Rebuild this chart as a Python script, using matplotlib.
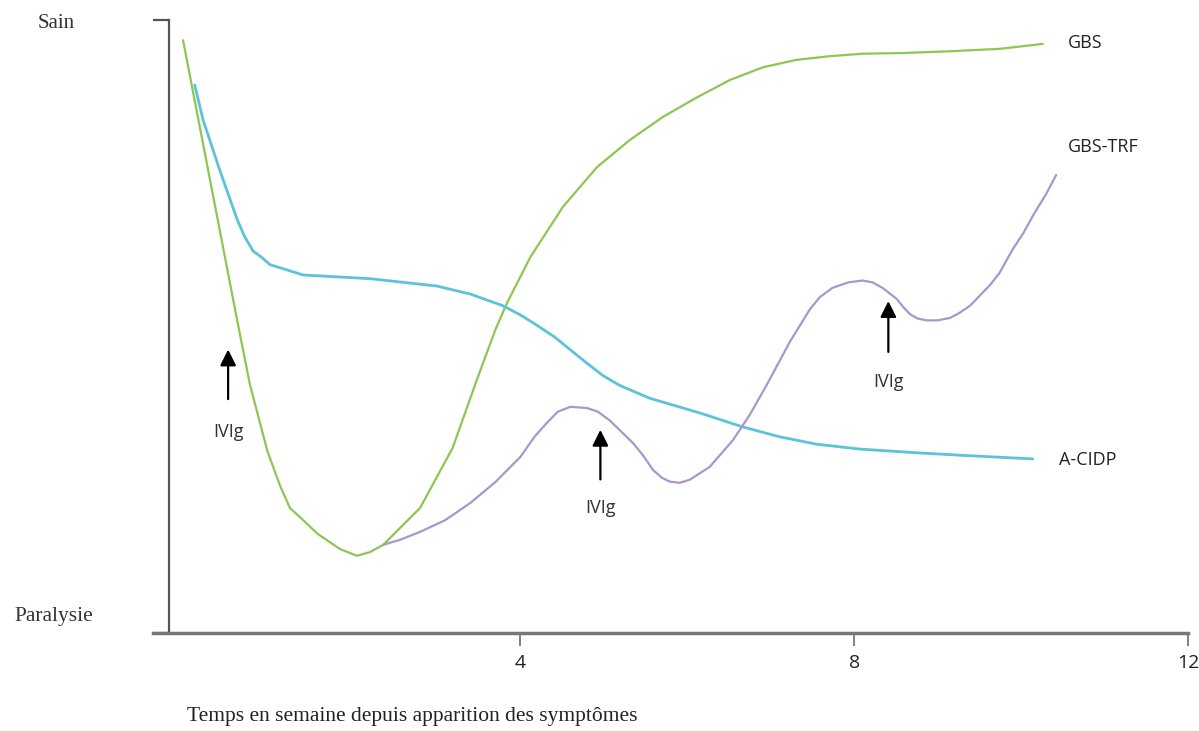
import matplotlib
matplotlib.use("Agg")
import matplotlib.pyplot as plt
import numpy as np

# weeks since symptom onset vs. clinical state (0 = paralysie, 100 = sain)
gbs_x = [-0.04, 0.61, 0.76, 0.97, 1.12, 1.24, 1.40, 1.57, 1.84, 2.04, 2.20, 2.36, 2.80, 3.19,
         3.48, 3.70, 3.84, 4.12, 4.51, 4.92, 5.31, 5.71, 6.12, 6.51, 6.91, 7.31, 7.71, 8.10,
         8.55, 9.15, 9.75, 10.26]
gbs_y = [96.7, 50.9, 40.6, 29.7, 24.1, 20.4, 18.4, 16.2, 13.7, 12.6, 13.2, 14.4, 20.4, 30.2,
         41.3, 49.4, 53.8, 61.3, 69.5, 76.0, 80.4, 84.2, 87.4, 90.2, 92.3, 93.5, 94.1, 94.5,
         94.6, 94.9, 95.3, 96.1]

cidp_x = [0.10, 0.20, 0.40, 0.61, 0.70, 0.80, 0.90, 1.00, 1.40, 2.20, 3.00, 3.40, 3.79, 4.00,
          4.20, 4.41, 4.60, 4.80, 4.99, 5.19, 5.55, 6.15, 6.67, 7.11, 7.55, 8.07, 8.75, 9.27,
          10.14]
cidp_y = [89.4, 83.7, 75.5, 67.4, 64.6, 62.3, 61.3, 60.1, 58.4, 57.8, 56.6, 55.3, 53.4, 51.9,
          50.2, 48.3, 46.2, 44.0, 42.0, 40.4, 38.3, 35.9, 33.6, 32.0, 30.8, 30.0, 29.4, 29.0,
          28.4]

trf_x = [2.36, 2.56, 2.80, 3.10, 3.40, 3.70, 4.00, 4.17, 4.32, 4.45, 4.60, 4.80, 4.93, 5.07,
         5.35, 5.47, 5.59, 5.70, 5.79, 5.91, 6.03, 6.27, 6.55, 6.75, 6.95, 7.23, 7.47, 7.59,
         7.74, 7.93, 8.10, 8.22, 8.34, 8.51, 8.58, 8.67, 8.76, 8.87, 9.00, 9.15, 9.26, 9.39,
         9.63, 9.74, 9.90, 10.03, 10.16, 10.30, 10.42]
trf_y = [14.4, 15.2, 16.5, 18.4, 21.2, 24.6, 28.7, 32.0, 34.3, 36.1, 36.9, 36.7, 36.1, 34.7,
         31.0, 29.0, 26.6, 25.3, 24.7, 24.5, 25.0, 27.1, 31.5, 35.6, 40.4, 47.5, 52.8, 54.8,
         56.3, 57.2, 57.5, 57.2, 56.3, 54.5, 53.3, 52.0, 51.3, 51.0, 51.0, 51.4, 52.2, 53.4,
         56.8, 58.7, 62.6, 65.3, 68.5, 71.6, 74.7]

# IVIg arrows: x, tail y, tip y, label y
ivig_x = [0.50, 4.96, 8.41]
ivig_tail = [37.7, 24.6, 45.4]
ivig_tip = [46.7, 33.6, 54.6]
ivig_lab = [32.8, 20.4, 40.9]

x_ticks = [4, 8, 12]

W, H = 1199, 731
fig = plt.figure(figsize=(W / 100, H / 100), dpi=100)
ax = fig.add_axes([153 / W, (H - 633) / H, (1188 - 153) / W, (633 - 20) / H])

line_kw = dict(solid_joinstyle="round", solid_capstyle="round")
ax.plot(gbs_x, gbs_y, color="#8cc751", lw=1.6, **line_kw)
ax.plot(cidp_x, cidp_y, color="#5bc3da", lw=2.0, **line_kw)
ax.plot(trf_x, trf_y, color="#a996cc", lw=1.6, **line_kw)

sans = "Open Sans"
for x, t0, t1, ly in zip(ivig_x, ivig_tail, ivig_tip, ivig_lab):
    ax.annotate("", xy=(x, t1), xytext=(x, t0),
                arrowprops=dict(arrowstyle="-|>", color="black", lw=1.6, mutation_scale=24))
    ax.text(x, ly, "IVIg", ha="center", va="center", fontsize=13, family=sans, color="#333333")

ax.text(10.56, 96.2, "GBS", ha="left", va="center", fontsize=13, family=sans, color="#222222")
ax.text(10.56, 79.3, "GBS-TRF", ha="left", va="center", fontsize=13, family=sans, color="#222222")
ax.text(10.46, 28.2, "A-CIDP", ha="left", va="center", fontsize=13, family=sans, color="#222222")

ax.set_xlim(-0.40, 12.0)
ax.set_ylim(0, 100)
for s in ["top", "right"]:
    ax.spines[s].set_visible(False)
ax.spines["left"].set_position(("data", -0.21))
ax.spines["left"].set_color("#555555")
ax.spines["bottom"].set_color("#777777")
ax.spines["left"].set_linewidth(1.6)
ax.spines["bottom"].set_linewidth(2.5)

ax.set_xticks(x_ticks)
ax.set_xticklabels([str(t) for t in x_ticks], fontsize=14, family=sans, color="#222222")
ax.tick_params(axis="x", direction="out", length=9, width=1.3, color="#777777", pad=6)
ax.set_yticks([0, 100])
ax.set_yticklabels(["", ""])
ax.tick_params(axis="y", direction="out", length=11.5, width=1.6, color="#555555")

fig.text(56 / W, 1 - 23 / H, "Sain", ha="center", va="center", fontsize=15,
         family="Liberation Serif", color="#333333")
fig.text(54 / W, 1 - 617 / H, "Paralysie", ha="center", va="center", fontsize=15.5,
         family="Liberation Serif", color="#333333")
fig.text(187 / W, 1 - 717 / H, "Temps en semaine depuis apparition des symptômes",
         ha="left", va="center", fontsize=15.5, family="Liberation Serif", color="#222222")

fig.savefig("out.png", dpi=100)
